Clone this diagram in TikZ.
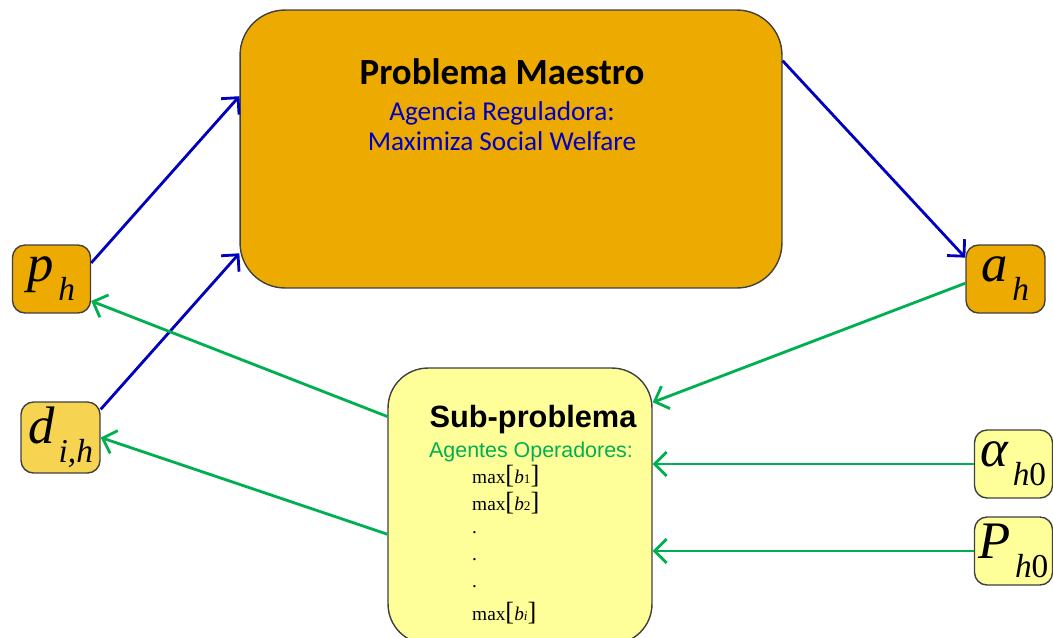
\documentclass[tikz,border=0pt]{standalone}
\usepackage{fontspec}
\setmainfont{Liberation Serif}
\newfontfamily\calibri{Carlito}
\newfontfamily\arial{Liberation Sans}
\usetikzlibrary{arrows.meta}
\definecolor{naranja}{RGB}{237,170,0}
\definecolor{amarillo}{RGB}{255,255,153}
\definecolor{oro}{RGB}{247,211,82}
\definecolor{azul}{RGB}{0,0,190}
\definecolor{verde}{RGB}{0,176,80}
\definecolor{borde}{RGB}{64,64,64}
\newcommand{\simb}[2]{{\fontsize{30}{30}\selectfont\itshape #1\kern0.08em\raisebox{-0.36em}{\fontsize{19}{19}\selectfont #2}}}
\newcommand{\maxb}[1]{max{\fontsize{15}{15}\selectfont[}{\itshape b}{\fontsize{7.5}{7.5}\selectfont #1}{\fontsize{15}{15}\selectfont]}}

\begin{document}
\begin{tikzpicture}[x=0.02cm,y=-0.02cm,
	caja/.style={draw=borde, line width=0.8pt, rounded corners=0.25cm, minimum width=1.56cm, minimum height=1.36cm, inner sep=0pt},
	flechaazul/.style={draw=azul, line width=1.6pt, -{Straight Barb[length=2.4mm,width=4.8mm]}},
	flechaverde/.style={draw=verde, line width=1.6pt, -{Straight Barb[length=2.4mm,width=4.8mm]}}]
	\clip (0,0) rectangle (1053,637);
	
	%boxes
	\node[caja, fill=naranja, minimum width=10.84cm, minimum height=5.56cm, rounded corners=0.9cm] (maestro) at (511,149) {};
	\node[caja, fill=amarillo, minimum width=5.28cm, minimum height=5.52cm, rounded corners=0.8cm] (sub) at (520,506) {};
	\node[caja, fill=naranja] (ph) at (51.5,279) {\simb{p}{h}};
	\node[caja, fill=oro, minimum width=1.58cm, minimum height=1.42cm] (dih) at (60.5,437.5) {\simb{d}{i,h}};
	\node[caja, fill=naranja, minimum width=1.58cm] (ah) at (1005.5,279) {\simb{a}{h}};
	\node[caja, fill=amarillo] (alpha) at (1013.5,464) {\simb{α}{h\upshape 0}};
	\node[caja, fill=amarillo] (P) at (1013.5,551) {\simb{P}{h\upshape 0}};
	
	%texts
	\node[font=\calibri\bfseries\fontsize{21}{21}\selectfont] (titulo) at (502,72) {Problema Maestro};
	\node[text=azul, font=\calibri\fontsize{15.5}{15.5}\selectfont] (agencia) at (502,113) {Agencia Reguladora:};
	\node[text=azul, font=\calibri\fontsize{15.5}{15.5}\selectfont] (welfare) at (502,141) {Maximiza Social Welfare};
	\node[font=\arial\bfseries\fontsize{17.5}{17.5}\selectfont] (subt) at (533,420) {Sub-problema};
	\node[text=verde, font=\arial\fontsize{12.2}{12.2}\selectfont] (agentes) at (531,452) {Agentes Operadores:};
	\node[anchor=west, font=\fontsize{11}{11}\selectfont] (m1) at (466,476) {\maxb{1}};
	\node[anchor=west, font=\fontsize{11}{11}\selectfont] (m2) at (466,503) {\maxb{2}};
	\foreach \y [count=\i] in {533,560,587}
		\node[anchor=west, font=\fontsize{11}{11}\selectfont] (punto\i) at (466,\y) {.};
	\node[anchor=west, font=\fontsize{11}{11}\selectfont] (mi) at (466,613) {\maxb{\itshape i}};
	
	%arrows
	\draw[flechaazul] (ph.22) -- (maestro.169);
	\draw[flechaazul] (dih.35) -- (maestro.201);
	\draw[flechaazul] (maestro.18) -- (ah.152);
	\draw[flechaverde] (ah.186) -- (sub.38);
	\draw[flechaverde] (sub.146) -- (ph.-29);
	\draw[flechaverde] (sub.192) -- (dih.east);
	\draw[flechaverde] (alpha.west) -- (alpha.west -| sub.east);
	\draw[flechaverde] (P.west) -- (P.west -| sub.east);
	
\end{tikzpicture}
\end{document}
